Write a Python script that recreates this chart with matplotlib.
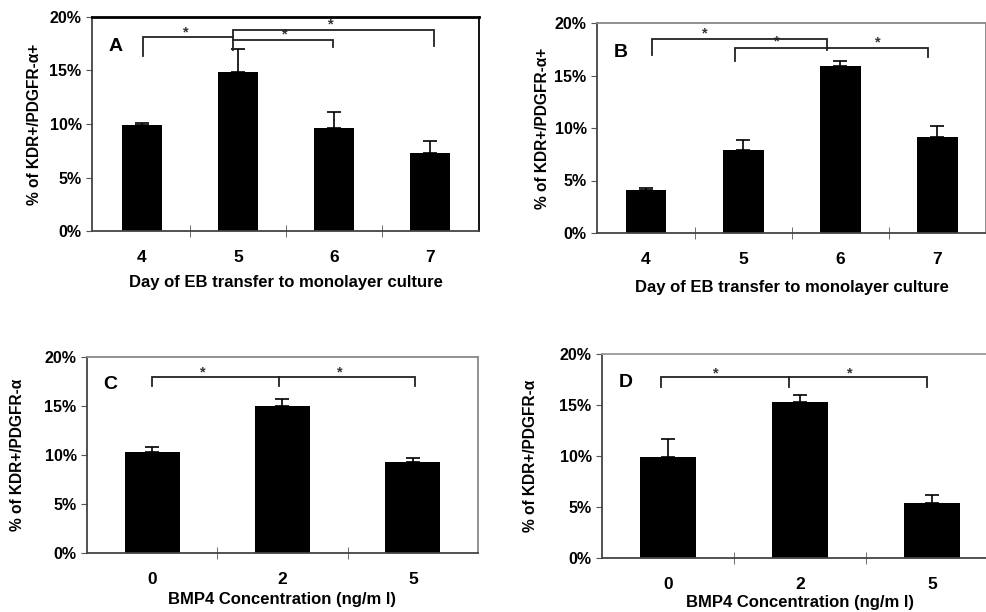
import matplotlib.pyplot as plt
import numpy as np
from matplotlib.ticker import FixedLocator, FuncFormatter

plt.rcParams["font.family"] = ["Liberation Sans", "DejaVu Sans"]
plt.rcParams["font.weight"] = "bold"

# ---------------------------------------------------------------------------
# Données (en %)
# ---------------------------------------------------------------------------
days = ["4", "5", "6", "7"]
a_means = [9.9, 14.9, 9.6, 7.3]
a_err = [0.15, 2.1, 1.5, 1.1]
b_means = [4.1, 7.9, 15.9, 9.1]
b_err = [0.2, 1.0, 0.5, 1.1]

bmp = ["0", "2", "5"]
c_means = [10.3, 15.0, 9.3]
c_err = [0.5, 0.7, 0.4]
d_means = [9.9, 15.3, 5.4]
d_err = [1.8, 0.7, 0.8]

# crochets de significativité : polylignes (x en indice de catégorie, y en %)
a_brackets = [
    ([0.01, 0.01, 0.95], [16.4, 18.1, 18.1]),
    ([0.95, 1.99, 1.99], [17.85, 17.85, 17.2]),
    ([0.95, 0.95, 3.04, 3.04], [16.9, 18.8, 18.8, 17.3]),
]
a_stars = [(0.46, 18.6), (1.49, 18.4), (1.97, 19.3)]

b_brackets = [
    ([0.06, 0.06, 1.86, 1.86], [17.0, 18.5, 18.5, 17.4]),
    ([0.92, 0.92, 2.90, 2.90], [16.4, 17.6, 17.6, 16.8]),
]
b_stars = [(0.61, 19.0), (1.35, 18.2), (2.39, 18.1)]

c_brackets = [
    ([0.0, 0.0, 2.02, 2.02], [17.0, 18.0, 18.0, 17.0]),
    ([0.97, 0.97], [17.0, 18.0]),
]
c_stars = [(0.39, 18.4), (1.44, 18.4)]

d_brackets = [
    ([-0.05, -0.05, 1.96, 1.96], [16.8, 17.7, 17.7, 16.8]),
    ([0.92, 0.92], [16.8, 17.7]),
]
d_stars = [(0.36, 18.1), (1.38, 18.1)]

day_label = "Day of EB transfer to monolayer culture"
bmp_label = "BMP4 Concentration (ng/m l)"
ylab_ab = "% of KDR+/PDGFR-\u03b1+"
ylab_cd = "% of KDR+/PDGFR-\u03b1"


def draw_panel(ax, cats, means, err, brackets, stars, letter, xlabel, ylabel,
               frame_color, xlim, ylab_x, xlab_y):
    x = np.arange(len(cats))
    ax.bar(x, means, width=0.42, color="black", zorder=2)
    ax.errorbar(x, means, yerr=[np.zeros(len(err)), err], fmt="none",
                ecolor="black", elinewidth=1.2, capsize=5, capthick=1.2,
                zorder=3)
    for xs, ys in brackets:
        ax.plot(xs, ys, color="#222222", lw=1.3, zorder=4,
                solid_joinstyle="miter")
    for sx, sy in stars:
        ax.text(sx, sy, "*", fontsize=10.5, ha="center", va="center",
                color="#333333")

    ax.set_xlim(*xlim)
    ax.set_ylim(0, 20)
    ax.set_xticks(x)
    ax.set_xticklabels(cats, fontsize=12.5, fontweight="bold")
    ax.xaxis.set_minor_locator(FixedLocator(x[:-1] + 0.5))
    ax.tick_params(axis="x", which="major", length=0, pad=14)
    ax.tick_params(axis="x", which="minor", length=8, direction="inout",
                   color="#555555")
    ax.set_yticks([0, 5, 10, 15, 20])
    ax.yaxis.set_major_formatter(FuncFormatter(lambda v, p: f"{v:.0f}%"))
    ax.tick_params(axis="y", length=4, color="#555555", labelsize=11.5)
    for lab in ax.get_yticklabels():
        lab.set_fontweight("bold")

    for side in ["top", "right"]:
        ax.spines[side].set_color(frame_color)
        ax.spines[side].set_linewidth(1.3)
    for side in ["left", "bottom"]:
        ax.spines[side].set_color("#444444")
        ax.spines[side].set_linewidth(1.3)

    ax.text(0.06, 0.86, letter, transform=ax.transAxes, fontsize=14,
            fontweight="bold", ha="center", va="center")
    ax.set_ylabel(ylabel, fontsize=11.2, fontweight="bold")
    ax.yaxis.set_label_coords(ylab_x, 0.5)
    ax.set_xlabel(xlabel, fontsize=12, fontweight="bold")
    ax.xaxis.set_label_coords(0.5, xlab_y)


fig = plt.figure(figsize=(9.87, 6.12), dpi=100)
W, H = 987, 612


def box(left, right, top, bottom):
    return [left / W, 1 - bottom / H, (right - left) / W, (bottom - top) / H]


ax_a = fig.add_axes(box(92, 479, 17, 231))
ax_b = fig.add_axes(box(597, 986, 23, 233))
ax_c = fig.add_axes(box(87, 478, 357, 553))
ax_d = fig.add_axes(box(602, 998, 354, 558))

draw_panel(ax_a, days, a_means, a_err, a_brackets, a_stars, "A", day_label,
           ylab_ab, "black", (-0.52, 3.51), -0.13, -0.205)
draw_panel(ax_b, days, b_means, b_err, b_brackets, b_stars, "B", day_label,
           ylab_ab, "#888888", (-0.505, 3.5), -0.121, -0.225)
draw_panel(ax_c, bmp, c_means, c_err, c_brackets, c_stars, "C", bmp_label,
           ylab_cd, "#888888", (-0.5, 2.5), -0.159, -0.2)
draw_panel(ax_d, bmp, d_means, d_err, d_brackets, d_stars, "D", bmp_label,
           ylab_cd, "#999999", (-0.5, 2.5), -0.162, -0.18)

ax_a.spines["top"].set_linewidth(2.0)

fig.savefig("out.png", dpi=100)
